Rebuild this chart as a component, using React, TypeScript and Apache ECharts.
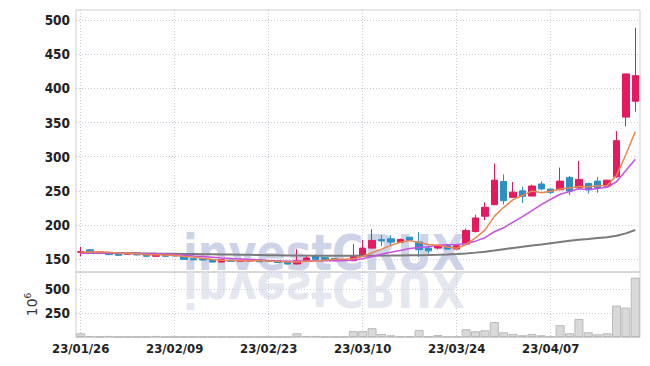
import React, { useEffect, useRef } from 'react';
import * as echarts from 'echarts';

const dates = [
  '23/01/26', '23/01/27', '23/01/30', '23/01/31',
  '23/02/01', '23/02/02', '23/02/03', '23/02/06', '23/02/07', '23/02/08', '23/02/09', '23/02/10',
  '23/02/13', '23/02/14', '23/02/15', '23/02/16', '23/02/17', '23/02/20', '23/02/21', '23/02/22',
  '23/02/23', '23/02/24', '23/02/27', '23/02/28',
  '23/03/02', '23/03/03', '23/03/06', '23/03/07', '23/03/08', '23/03/09', '23/03/10',
  '23/03/13', '23/03/14', '23/03/15', '23/03/16', '23/03/17', '23/03/20', '23/03/21', '23/03/22',
  '23/03/23', '23/03/24', '23/03/27', '23/03/28', '23/03/29', '23/03/30', '23/03/31',
  '23/04/03', '23/04/04', '23/04/05', '23/04/06', '23/04/07', '23/04/10', '23/04/11', '23/04/12',
  '23/04/13', '23/04/14', '23/04/17', '23/04/18', '23/04/19', '23/04/20',
];

const opens = [
  160, 163.5, 159, 158.8, 159, 157, 158.8, 156.3, 154, 157,
  155.5, 154, 150.5, 150.3, 149.5, 145.5, 148.5, 146.5, 147, 149,
  147.5, 147.5, 146.5, 142.7, 147.5, 154.4, 152, 151, 149.5, 147.5,
  154.8, 166, 178.5, 179.6, 174.2, 182, 175, 166, 166, 169.4,
  164.6, 171.9, 190.3, 212.7, 229.6, 263.7, 240.4, 250, 242.3, 260,
  252.5, 251.5, 269.6, 254.4, 260.8, 264.2, 256.9, 270.5, 358, 381.3,
];
const closes = [
  160.8, 160.5, 161, 156.5, 155.5, 158.8, 156, 154, 157, 154,
  154.5, 149.5, 148.8, 148.6, 145.5, 149, 146.7, 148, 149, 146,
  146.5, 145, 142.7, 147.5, 151.5, 149.5, 149.5, 150, 148, 155.3,
  166, 177.3, 176.5, 174.8, 178.6, 177.7, 163.6, 162, 169.4, 164.6,
  169.4, 191.7, 210.2, 225.8, 265.6, 235.5, 248, 241.9, 257, 252.7,
  247.7, 264.2, 249.6, 266.7, 251.5, 254.4, 265.6, 323.5, 421.3, 418.8,
];
const lows = [
  154, 160, 158.5, 155.5, 155, 156.5, 155.5, 153.5, 153.5, 153.5,
  154, 149, 148.3, 148, 145, 145, 146.2, 146, 146.5, 145.5,
  146, 144.5, 142, 142, 147, 149, 149, 149.5, 147.5, 147,
  154, 165, 169, 170, 173.5, 177, 152.9, 158, 164, 164,
  164, 171, 189, 207, 229, 230, 240, 232, 242, 251,
  245, 251, 243.8, 252, 246, 247, 256, 269, 344.4, 366,
];
const highs = [
  168, 164, 161.5, 159.5, 159.5, 159.3, 159.3, 156.8, 159.5, 157.5,
  156, 154.5, 151, 150.8, 150, 149.5, 149, 148.5, 149.5, 149.5,
  148, 148, 147, 164.5, 156, 157, 152.5, 151.5, 150, 172,
  178, 193.7, 185, 185, 180, 182.5, 189.4, 170, 170.5, 170,
  170, 194.6, 215, 233, 290, 274, 263, 256, 259, 264,
  253, 284, 271.5, 293.8, 262, 270.5, 266, 337.6, 421.5, 489,
];
const volumes = [
  39, 11, 4, 11, 3, 3, 3, 3, 11, 3,
  3, 3, 3, 3, 3, 3, 3, 3, 3, 3,
  3, 3, 3, 39, 11, 11, 4, 4, 4, 62,
  62, 92, 32, 18, 8, 8, 72, 7, 21, 7,
  7, 81, 60, 70, 155, 49, 32, 18, 32, 18,
  7, 123, 39, 187, 49, 28, 39, 327, 306, 618,
];
const ma5 = [
  160, 160.3, 160.6, 159.8, 158.9, 158.5, 157.6, 156.2, 156.3, 156,
  155.1, 153.8, 152.8, 151.1, 149.4, 148.3, 147.7, 147.6, 147.6, 147.7,
  147.2, 146.9, 145.8, 145.5, 146.6, 147.2, 148.1, 149.6, 149.7, 150.5,
  153.8, 159.3, 164.6, 170, 174.6, 177, 174.2, 171.3, 170.3, 167.5,
  165.8, 171.4, 181.1, 192.3, 212.5, 225.8, 237, 243.4, 249.6, 247,
  249.5, 252.7, 254.2, 256.2, 255.9, 257.3, 257.6, 272.3, 303.3, 336.7,
];
const ma10 = [
  158.5, 158.7, 158.9, 158.8, 158.5, 158.4, 158.1, 157.7, 157.6, 157.4,
  156.8, 155.7, 154.5, 153.7, 152.7, 151.7, 150.8, 150.2, 149.4, 148.6,
  147.8, 147.3, 146.7, 146.6, 147.2, 147.2, 147.5, 147.7, 147.6, 148.6,
  150.5, 153.7, 157.1, 159.8, 162.6, 165.4, 166.8, 168, 170.1, 171.1,
  171.4, 172.8, 176.2, 181.3, 190, 195.8, 204.2, 212.2, 221, 229.8,
  237.6, 244.9, 248.8, 252.9, 251.5, 253.4, 255.1, 263.3, 279.7, 296.3,
];
const ma60 = [
  159, 158.9, 158.8, 158.7, 158.6, 158.5, 158.3, 158.2, 158, 157.9,
  157.7, 157.5, 157.3, 157.1, 156.9, 156.7, 156.5, 156.3, 156.1, 155.9,
  155.7, 155.5, 155.3, 155.1, 155, 154.9, 154.8, 154.8, 154.7, 154.7,
  154.8, 154.9, 155, 155.1, 155.3, 155.5, 155.7, 155.9, 156.3, 156.8,
  157.4, 158.2, 159.4, 160.8, 162.5, 164.4, 166.3, 168, 169.8, 171.4,
  173.2, 175, 176.8, 178.3, 179.5, 180.8, 182, 184.2, 187.6, 192.5,
];
const priceTicks = [150, 200, 250, 300, 350, 400, 450, 500];

const RED = '#e5195f';
const BLUE = '#2d8fc6';
const NARROW = "'Liberation Sans Narrow', 'DejaVu Sans Condensed', sans-serif";
const WM_FONT = "bold 49px 'DejaVu Sans', sans-serif";

export default function App() {
  const ref = useRef<HTMLDivElement>(null);
  useEffect(() => {
    const chart = echarts.init(ref.current!, null, { renderer: 'svg' });
    const candles = dates.map((_, i) => [opens[i], closes[i], lows[i], highs[i]]);
    const gridLine = { show: true, lineStyle: { color: '#c6cad9', type: [1, 2], width: 1 } };
    const labelStyle = { fontFamily: NARROW, fontWeight: 'bold', fontSize: 13.5, color: '#222' };
    chart.setOption({
      animation: false,
      backgroundColor: '#ffffff',
      grid: [
        { left: 76, right: 10, top: 10, height: 262, show: true, borderColor: '#cfcfcf', borderWidth: 1 },
        { left: 76, right: 10, top: 272, height: 65, show: true, borderColor: '#cfcfcf', borderWidth: 1 },
      ],
      graphic: [
        {
          type: 'text', x: 183, y: 253, scaleX: 0.88, silent: true,
          style: { text: 'investCRUX', font: WM_FONT, fill: '#cdd4e7', verticalAlign: 'middle', align: 'left' },
        },
        {
          type: 'text', x: 183, y: 289, scaleX: 0.88, scaleY: -1, silent: true,
          style: { text: 'investCRUX', font: WM_FONT, fill: '#e4e7f0', verticalAlign: 'middle', align: 'left' },
        },
      ],
      xAxis: [
        {
          type: 'category', gridIndex: 0, data: dates, boundaryGap: true,
          axisLine: { show: false }, axisTick: { show: false }, axisLabel: { show: false },
          splitLine: { ...gridLine, interval: 9, alignWithLabel: true },
        },
        {
          type: 'category', gridIndex: 1, data: dates, boundaryGap: true,
          axisLine: { show: true, lineStyle: { color: '#cfcfcf' } }, axisTick: { show: false },
          axisLabel: { ...labelStyle, fontSize: 13, interval: 9, margin: 5 },
          splitLine: { ...gridLine, interval: 9, alignWithLabel: true },
        },
      ],
      yAxis: [
        {
          type: 'value', gridIndex: 0, min: 131, max: 515, scale: true,
          axisLine: { show: false }, axisTick: { show: false, customValues: priceTicks },
          axisLabel: { ...labelStyle, customValues: priceTicks, margin: 6 },
          splitLine: gridLine,
        },
        {
          type: 'value', gridIndex: 1, min: 0, max: 677, interval: 250,
          axisLine: { show: false }, axisTick: { show: false },
          axisLabel: { ...labelStyle, showMinLabel: false, showMaxLabel: false, margin: 6 },
          splitLine: gridLine,
          name: '{a|10}{b|6}', nameLocation: 'middle', nameGap: 36, nameRotate: 90,
          nameMoveOverlap: false,
          nameTextStyle: {
            rich: {
              a: { fontFamily: 'DejaVu Sans', fontSize: 14, color: '#333' },
              b: { fontFamily: 'DejaVu Sans', fontSize: 9, color: '#333', verticalAlign: 'top', padding: [0, 0, 8, 0] },
            },
          },
        },
      ],
      series: [
        {
          type: 'candlestick', xAxisIndex: 0, yAxisIndex: 0, data: candles, barWidth: 7,
          itemStyle: { color: RED, color0: BLUE, borderColor: RED, borderColor0: BLUE, borderWidth: 1 },
        },
        { type: 'line', xAxisIndex: 0, yAxisIndex: 0, data: ma60, symbol: 'none', lineStyle: { color: '#7a7a7a', width: 2 } },
        { type: 'line', xAxisIndex: 0, yAxisIndex: 0, data: ma10, symbol: 'none', lineStyle: { color: '#c850e6', width: 1.5 } },
        { type: 'line', xAxisIndex: 0, yAxisIndex: 0, data: ma5, symbol: 'none', lineStyle: { color: '#ec8650', width: 1.5 } },
        {
          type: 'bar', xAxisIndex: 1, yAxisIndex: 1, data: volumes, barWidth: 9,
          itemStyle: { color: '#d9d9d9', borderColor: '#b9b9b9', borderWidth: 1 },
        },
      ],
    });
    return () => chart.dispose();
  }, []);
  return <div ref={ref} style={{ position: 'fixed', left: 0, top: 0, width: 650, height: 366 }} />;
}
